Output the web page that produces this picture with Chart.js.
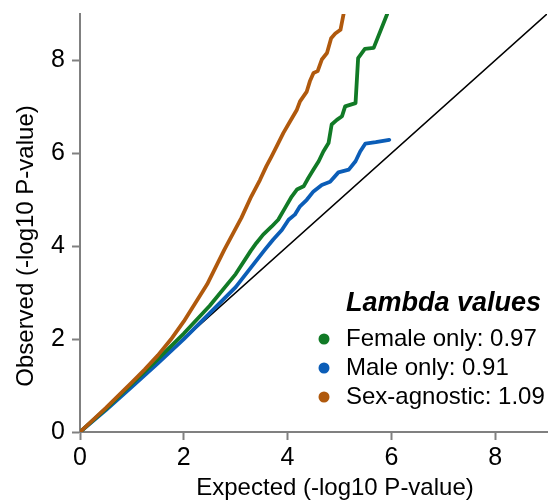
<!DOCTYPE html>
<html>
<head>
<meta charset="utf-8">
<script src="https://cdn.jsdelivr.net/npm/chart.js@4"></script>
<style>
  html, body { margin: 0; padding: 0; background: #fff; }
  #wrap { width: 548px; height: 502px; }
</style>
</head>
<body>
<div id="wrap"><canvas id="qq" width="548" height="502"></canvas></div>
<script>
// QQ plot: observed vs expected -log10 P, three GWAS runs + identity line

const seriesNames = ["Female only", "Male only", "Sex-agnostic"];
const lambdaValues = [0.97, 0.91, 1.09];
const seriesColors = ["#117a26", "#0b5db7", "#b0590d"];

const femaleX = [0, 0.5, 1.0, 1.5, 2.0, 2.5, 3.0, 3.29, 3.40, 3.53, 3.69, 3.82, 3.95, 4.08, 4.18, 4.31, 4.40, 4.50, 4.60, 4.69, 4.79, 4.85, 4.95, 5.05, 5.11, 5.31, 5.36, 5.49, 5.66, 5.92];
const femaleY = [0, 0.50, 1.04, 1.57, 2.12, 2.72, 3.40, 3.90, 4.07, 4.25, 4.42, 4.57, 4.82, 5.07, 5.22, 5.29, 5.47, 5.65, 5.83, 6.04, 6.22, 6.62, 6.72, 6.80, 7.01, 7.08, 8.05, 8.25, 8.27, 9.0];

const maleX = [0, 0.5, 1.0, 1.5, 2.0, 2.5, 3.0, 3.56, 3.72, 3.89, 4.02, 4.14, 4.24, 4.37, 4.50, 4.66, 4.82, 4.98, 5.18, 5.31, 5.40, 5.50, 5.70, 5.96];
const maleY = [0, 0.47, 0.97, 1.48, 2.00, 2.56, 3.12, 3.92, 4.14, 4.35, 4.57, 4.68, 4.86, 5.00, 5.18, 5.32, 5.39, 5.59, 5.65, 5.83, 6.04, 6.21, 6.24, 6.29];

const agnosticX = [0, 0.5, 1.0, 1.25, 1.5, 1.75, 2.0, 2.45, 2.78, 3.11, 3.30, 3.47, 3.59, 3.69, 3.79, 3.92, 4.05, 4.18, 4.24, 4.37, 4.43, 4.50, 4.58, 4.66, 4.76, 4.84, 4.92, 5.02, 5.08];
const agnosticY = [0, 0.52, 1.07, 1.35, 1.65, 1.99, 2.38, 3.18, 3.92, 4.61, 5.07, 5.43, 5.72, 5.93, 6.15, 6.44, 6.69, 6.94, 7.12, 7.33, 7.55, 7.73, 7.77, 8.02, 8.16, 8.48, 8.58, 8.66, 9.0];

const identityX = [0, 9];
const identityY = [0, 9];

const tickValues = [0, 2, 4, 6, 8];
const axisMax = 9;

const FONT = "'Liberation Sans', Arial, Helvetica, sans-serif";
const AXIS_GREY = "#808080";

const pts = (xs, ys) => xs.map((x, i) => ({ x, y: ys[i] }));

// axis titles and the lambda legend, placed like the original figure
const DecorPlugin = {
  id: "decor",
  afterDraw(chart) {
    const { ctx } = chart;
    ctx.save();
    ctx.fillStyle = "#000";
    ctx.font = `24px ${FONT}`;
    ctx.textAlign = "center";
    ctx.textBaseline = "middle";
    ctx.fillText("Expected (-log10 P-value)", 335, 488);
    ctx.save();
    ctx.translate(26, 246);
    ctx.rotate(-Math.PI / 2);
    ctx.fillText("Observed (-log10 P-value)", 0, 0);
    ctx.restore();

    // legend
    ctx.textAlign = "right";
    ctx.font = `italic bold 27px ${FONT}`;
    ctx.fillText("Lambda values", 541, 304);
    ctx.textAlign = "left";
    ctx.font = `24px ${FONT}`;
    const rowY = [339, 368, 397];
    seriesNames.forEach((name, i) => {
      ctx.fillStyle = seriesColors[i];
      ctx.beginPath();
      ctx.arc(324, rowY[i], 5.5, 0, Math.PI * 2);
      ctx.fill();
      ctx.fillStyle = "#000";
      ctx.fillText(`${name}: ${lambdaValues[i].toFixed(2)}`, 346, rowY[i]);
    });
    ctx.restore();
  }
};

const axisCommon = {
  type: "linear",
  min: 0,
  max: axisMax,
  afterBuildTicks: (scale) => { scale.ticks = tickValues.map(v => ({ value: v })); },
  border: { display: true, color: AXIS_GREY, width: 2 },
  grid: { drawOnChartArea: false, drawTicks: true, tickLength: 8, tickWidth: 2, tickColor: AXIS_GREY },
  ticks: { color: "#000", font: { family: FONT, size: 25 } }
};

new Chart(document.getElementById("qq"), {
  type: "scatter",
  data: {
    datasets: [
      { label: seriesNames[0], data: pts(femaleX, femaleY), borderColor: seriesColors[0], order: 1 },
      { label: seriesNames[1], data: pts(maleX, maleY), borderColor: seriesColors[1], order: 2 },
      { label: seriesNames[2], data: pts(agnosticX, agnosticY), borderColor: seriesColors[2], order: 0 },
      { label: "identity", data: pts(identityX, identityY), borderColor: "#000", borderWidth: 1.6, order: 3 }
    ].map(d => Object.assign({ showLine: true, pointRadius: 0, borderWidth: 3.8, tension: 0, borderJoinStyle: "round", borderCapStyle: "round" }, d))
  },
  options: {
    responsive: false,
    animation: false,
    layout: { padding: { left: 0, right: 1, top: 14, bottom: 0 } },
    scales: {
      x: Object.assign({}, axisCommon, {
        position: "bottom",
        afterFit: (s) => { s.height = 70; s.paddingLeft = 0; s.paddingRight = 0; },
        ticks: Object.assign({}, axisCommon.ticks, { padding: 3, maxRotation: 0 })
      }),
      y: Object.assign({}, axisCommon, {
        position: "left",
        afterFit: (s) => { s.width = 80; s.paddingTop = 0; s.paddingBottom = 0; },
        ticks: Object.assign({}, axisCommon.ticks, { padding: 7 })
      })
    },
    plugins: {
      legend: { display: false },
      tooltip: { enabled: false }
    }
  },
  plugins: [DecorPlugin]
});
</script>
</body>
</html>
